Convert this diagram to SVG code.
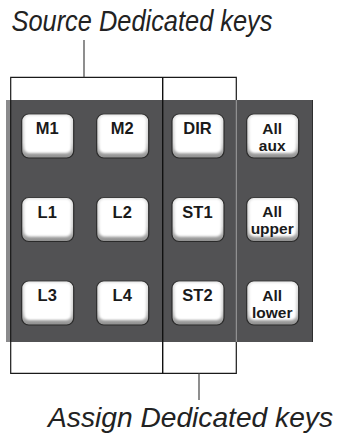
<svg xmlns="http://www.w3.org/2000/svg" width="338" height="436" viewBox="0 0 338 436">
<defs>
<linearGradient id="bev" x1="0" y1="0" x2="0" y2="1">
<stop offset="0" stop-color="#e0e0e0"/>
<stop offset="0.65" stop-color="#cfcfcf"/>
<stop offset="1" stop-color="#8e8e8e"/>
</linearGradient>
<filter id="soft" x="-10%" y="-10%" width="120%" height="120%"><feGaussianBlur stdDeviation="1.1"/></filter>
<g id="key">
<rect x="0" y="0" width="52" height="44" rx="7" fill="url(#bev)" stroke="#2a2a2a" stroke-width="1.2"/>
<rect x="2.5" y="1.5" width="47" height="37.5" rx="5" fill="#fff" filter="url(#soft)"/>
</g>
</defs>
<style>
.cap{font-family:"Liberation Sans",Arial,sans-serif;font-style:italic;font-weight:300;fill:#222;font-size:29px}
.k{font-family:"Liberation Sans",Arial,sans-serif;font-weight:bold;font-size:16.5px;fill:#1a1a1a;text-anchor:middle}
.k2{font-size:15.5px}
.br{fill:none;stroke:#1a1a1a;stroke-width:1.2}
</style>
<rect x="6" y="100" width="307" height="242" fill="#525254"/>
<rect x="6" y="100" width="4" height="242" fill="#8a8a8c"/>
<line x1="312.5" y1="100" x2="312.5" y2="342" stroke="#2e2e2e" stroke-width="1"/>
<g id="connectors">
<path class="br" d="M10.7,100 V77.3 H236.3 V100"/>
<path class="br" d="M10.7,342 V373.3 H236.3 V342"/>
<line x1="10.7" y1="100" x2="10.7" y2="342" stroke="#1a1a1a" stroke-width="1.2"/>
<line x1="162.7" y1="77.3" x2="162.7" y2="373.3" stroke="#111" stroke-width="1.4"/>
<line x1="236.3" y1="100" x2="236.3" y2="342" stroke="#a0a0a0" stroke-width="1"/>
<line x1="84" y1="40" x2="84" y2="77.3" stroke="#444" stroke-width="1.2"/>
<line x1="199" y1="373.3" x2="199" y2="400" stroke="#444" stroke-width="1.2"/>
</g>
<g id="label-source"><text class="cap" x="11.5" y="30.5" textLength="261" lengthAdjust="spacingAndGlyphs">Source Dedicated keys</text></g>
<g id="label-assign"><text class="cap" x="48" y="427" style="font-size:28px" textLength="285" lengthAdjust="spacingAndGlyphs">Assign Dedicated keys</text></g>
<g id="M1"><use href="#key" x="21.7" y="114"/><text class="k" x="47.2" y="134.3">M1</text></g>
<g id="M2"><use href="#key" x="96.7" y="114"/><text class="k" x="122.2" y="134.3">M2</text></g>
<g id="DIR"><use href="#key" x="172" y="114"/><text class="k" x="197.5" y="134.3">DIR</text></g>
<g id="AllAux"><use href="#key" x="246.7" y="114"/><text class="k k2" x="272.2" y="133.8">All</text><text class="k k2" x="272.2" y="150.5">aux</text></g>
<g id="L1"><use href="#key" x="21.7" y="197.5"/><text class="k" x="47.2" y="217.8">L1</text></g>
<g id="L2"><use href="#key" x="96.7" y="197.5"/><text class="k" x="122.2" y="217.8">L2</text></g>
<g id="ST1"><use href="#key" x="172" y="197.5"/><text class="k" x="197.5" y="217.8">ST1</text></g>
<g id="AllUpper"><use href="#key" x="246.7" y="197.5"/><text class="k k2" x="272.2" y="217.3">All</text><text class="k k2" x="272.2" y="234">upper</text></g>
<g id="L3"><use href="#key" x="21.7" y="281"/><text class="k" x="47.2" y="301.3">L3</text></g>
<g id="L4"><use href="#key" x="96.7" y="281"/><text class="k" x="122.2" y="301.3">L4</text></g>
<g id="ST2"><use href="#key" x="172" y="281"/><text class="k" x="197.5" y="301.3">ST2</text></g>
<g id="AllLower"><use href="#key" x="246.7" y="281"/><text class="k k2" x="272.2" y="300.8">All</text><text class="k k2" x="272.2" y="317.5">lower</text></g>
</svg>
